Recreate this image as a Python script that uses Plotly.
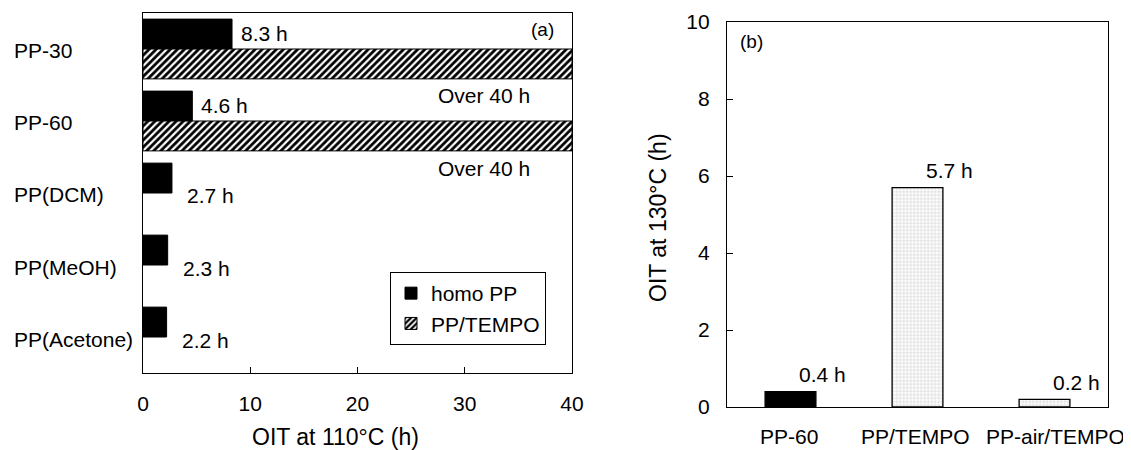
import plotly.graph_objects as go

# ---------------- data ----------------
samples_a = ["PP-30", "PP-60", "PP(DCM)", "PP(MeOH)", "PP(Acetone)"]
homo_pp = [8.3, 4.6, 2.7, 2.3, 2.2]
pp_tempo = [40, 40, None, None, None]
x_ticks_a = [0, 10, 20, 30, 40]

samples_b = ["PP-60", "PP/TEMPO", "PP-air/TEMPO"]
oit_130 = [0.4, 5.7, 0.2]
y_ticks_b = [0, 2, 4, 6, 8, 10]

W, H = 1131, 450
OFF = 8  # page body margin offset
FONT = "Arial, 'Liberation Sans', sans-serif"
FS = 21
FT = 23


def px(x):
    return (x - OFF) / W


def py(y):
    return 1 - (y - OFF) / H


fig = go.Figure()

# ---------------- panel (a) ----------------
fig.add_trace(go.Bar(
    y=samples_a, x=homo_pp, orientation="h", name="homo PP",
    marker=dict(color="black", line=dict(color="black", width=1)),
    xaxis="x", yaxis="y",
))
fig.add_trace(go.Bar(
    y=samples_a, x=pp_tempo, orientation="h", name="PP/TEMPO",
    marker=dict(color="white", line=dict(color="black", width=1),
                pattern=dict(shape="/", fgcolor="black", bgcolor="white",
                             size=5, solidity=0.55)),
    xaxis="x", yaxis="y",
))

# ---------------- panel (b) ----------------
fig.add_trace(go.Bar(
    x=samples_b, y=oit_130, width=0.4, showlegend=False,
    marker=dict(color=["black", "#e4e4e4", "#e4e4e4"],
                line=dict(color="black", width=1.3),
                pattern=dict(shape=["", ".", "."], fgcolor="#111111",
                             size=3.5, solidity=0.6)),
    xaxis="x2", yaxis="y2",
))


def tfont(size=FS):
    return dict(size=size, family=FONT, color="black")


annotations = []
# labels for panel (a) categories (left aligned)
for s in samples_a:
    annotations.append(dict(x=px(12), xref="paper", y=s, yref="y", text=s,
                            xanchor="left", yanchor="middle", showarrow=False,
                            yshift=-2, font=tfont()))
# value labels panel (a)
for i, (s, v) in enumerate(zip(samples_a, homo_pp)):
    if i < 2:
        annotations.append(dict(x=v, xref="x", y=i - 0.21, yref="y", text=f"{v} h",
                                xanchor="left", yanchor="middle", showarrow=False,
                                xshift=7, yshift=0, font=tfont()))
    else:
        annotations.append(dict(x=v, xref="x", y=s, yref="y", text=f"{v} h",
                                xanchor="left", yanchor="middle", showarrow=False,
                                xshift=13, yshift=-3, font=tfont()))
for s, v in zip(samples_a, pp_tempo):
    if v is not None:
        annotations.append(dict(x=v, xref="x", y=s, yref="y", text=f"Over {v} h",
                                xanchor="right", yanchor="middle", showarrow=False,
                                xshift=-40, yshift=-47, font=tfont()))
annotations.append(dict(x=px(556), xref="paper", y=py(30), yref="paper", text="(a)",
                        xanchor="right", yanchor="middle", showarrow=False,
                        font=tfont(19)))
annotations.append(dict(x=px(336), xref="paper", y=py(437), yref="paper",
                        text="OIT at 110°C (h)", xanchor="center", yanchor="middle",
                        showarrow=False, font=tfont(FT)))
# category labels panel (b)
label_shift_b = [-2, -2, 11]
for s, sh in zip(samples_b, label_shift_b):
    annotations.append(dict(x=s, xref="x2", y=py(436), yref="paper", text=s,
                            xanchor="center", yanchor="middle", showarrow=False,
                            xshift=sh, font=tfont()))
# value labels panel (b)
for s, v in zip(samples_b, oit_130):
    annotations.append(dict(x=s, xref="x2", y=v, yref="y2", text=f"{v} h",
                            xanchor="left", yanchor="middle", showarrow=False,
                            xshift=6, yshift=17, font=tfont()))
annotations.append(dict(x=px(738), xref="paper", y=py(41), yref="paper", text="(b)",
                        xanchor="left", yanchor="middle", showarrow=False,
                        font=tfont(19)))
annotations.append(dict(x=px(658), xref="paper", y=py(218), yref="paper",
                        text="OIT at 130°C (h)", textangle=-90, xanchor="center",
                        yanchor="middle", showarrow=False, font=tfont(FT)))

axis_common = dict(showline=True, linecolor="black", linewidth=1.3, mirror=True,
                   showgrid=False, zeroline=False, automargin=False,
                   tickfont=tfont())

fig.update_layout(
    template="none",
    width=W, height=H,
    margin=dict(l=0, r=0, t=0, b=0, pad=0),
    paper_bgcolor="white", plot_bgcolor="white",
    barmode="group", bargap=0.17, bargroupgap=0,
    font=tfont(),
    xaxis=dict(domain=[px(143), px(572)], anchor="y", range=[0, 40],
               tickvals=x_ticks_a, ticks="inside", ticklen=6, tickcolor="black",
               ticklabelstandoff=12, **axis_common),
    yaxis=dict(domain=[py(373), py(13)], anchor="x", type="category",
               categoryorder="array", categoryarray=samples_a,
               range=[4.5, -0.5], showticklabels=False, ticks="", **axis_common),
    xaxis2=dict(domain=[px(727), px(1108)], anchor="y2", type="category",
                categoryorder="array", categoryarray=samples_b, range=[-0.5, 2.5],
                ticks="", showticklabels=False, **axis_common),
    yaxis2=dict(domain=[py(407), py(22)], anchor="x2", range=[0, 10],
                tickvals=y_ticks_b, ticks="inside", ticklen=6, tickcolor="black",
                ticklabelstandoff=12, **axis_common),
    legend=dict(x=px(390), y=py(272), xanchor="left", yanchor="top",
                bordercolor="black", borderwidth=1, bgcolor="white",
                font=tfont(), tracegroupgap=0, itemwidth=30),
    annotations=annotations,
)

fig.write_html("out.html")
